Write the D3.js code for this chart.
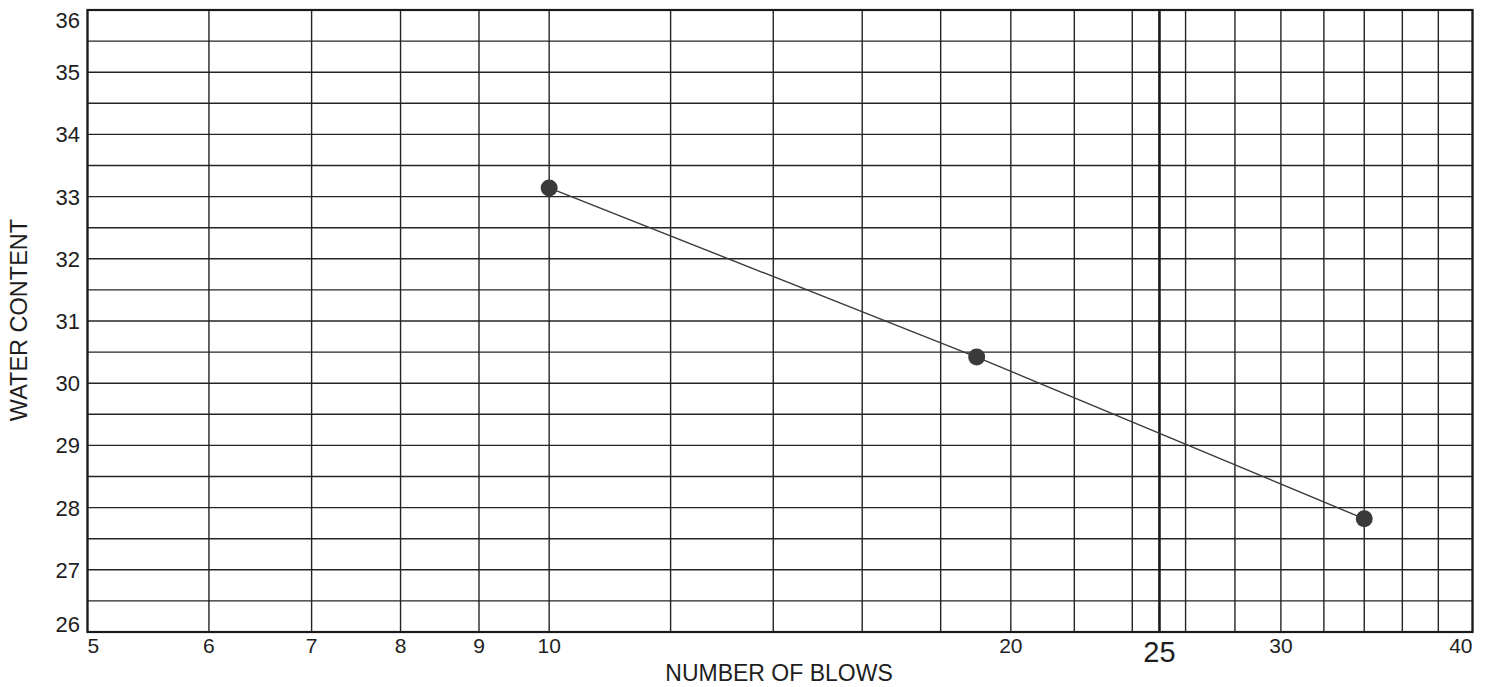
<!DOCTYPE html>
<html>
<head>
<meta charset="utf-8">
<script src="https://cdn.jsdelivr.net/npm/d3@7"></script>
<style>
  html, body { margin: 0; padding: 0; background: #fff; }
  svg { display: block; font-family: "Liberation Sans", Arial, sans-serif; }
</style>
</head>
<body>
<svg id="chart" width="1493" height="687"></svg>
<script>
// Liquid limit flow curve: water content vs. number of blows (log scale)
const blows = [10, 19, 34];
const waterContent = [33.14, 30.42, 27.82];

const xTickLabels = [5, 6, 7, 8, 9, 10, 20, 30, 40];
const xGridValues = [5, 6, 7, 8, 9, 10, 12, 14, 16, 18, 20, 22, 24, 26, 28, 30, 32, 34, 36, 38, 40];
const refBlows = 25;
const yTickLabels = [26, 27, 28, 29, 30, 31, 32, 33, 34, 35, 36];
const yGridValues = d3.range(26, 36.01, 0.5);

const svg = d3.select("#chart");
const plotLeft = 87.5, plotRight = 1472.5, plotTop = 10, plotBottom = 632;

const x = d3.scaleLog().domain([5, 40]).range([plotLeft, plotRight]);
const y = d3.scaleLinear().domain([26, 36]).range([plotBottom, plotTop]);

const ink = "#242424";

// horizontal grid
svg.append("g").selectAll("line").data(yGridValues).join("line")
  .attr("x1", plotLeft).attr("x2", plotRight)
  .attr("y1", d => y(d)).attr("y2", d => y(d))
  .attr("stroke", ink).attr("stroke-width", 1.4);

// vertical grid
svg.append("g").selectAll("line").data(xGridValues).join("line")
  .attr("x1", d => x(d)).attr("x2", d => x(d))
  .attr("y1", plotTop).attr("y2", plotBottom)
  .attr("stroke", ink).attr("stroke-width", 1.4);

// reference line at 25 blows
svg.append("line")
  .attr("x1", x(refBlows)).attr("x2", x(refBlows))
  .attr("y1", plotTop).attr("y2", plotBottom)
  .attr("stroke", "#1a1a1a").attr("stroke-width", 2.6);

// frame
svg.append("rect")
  .attr("x", plotLeft).attr("y", plotTop)
  .attr("width", plotRight - plotLeft).attr("height", plotBottom - plotTop)
  .attr("fill", "none").attr("stroke", "#1a1a1a").attr("stroke-width", 2.2);

// y tick labels (end labels nudged inward to clear the frame corners)
svg.append("g").selectAll("text").data(yTickLabels).join("text")
  .attr("x", 80).attr("y", d => d === 36 ? y(d) + 10 : d === 26 ? y(d) - 8 : y(d))
  .attr("dy", "0.36em")
  .attr("text-anchor", "end")
  .attr("font-size", 22).attr("fill", "#1e1e1e")
  .text(d => d);

// x tick labels (end labels kept inside the frame)
svg.append("g").selectAll("text").data(xTickLabels).join("text")
  .attr("x", d => x(d))
  .attr("y", 653)
  .attr("text-anchor", d => d === 5 ? "start" : d === 40 ? "end" : "middle")
  .attr("font-size", 21).attr("fill", "#1e1e1e")
  .text(d => d);

svg.append("text")
  .attr("x", x(refBlows)).attr("y", 662)
  .attr("text-anchor", "middle")
  .attr("font-size", 29).attr("fill", "#1e1e1e")
  .text(refBlows);

// axis titles
svg.append("text")
  .attr("x", 779).attr("y", 681)
  .attr("text-anchor", "middle")
  .attr("font-size", 23).attr("fill", "#1e1e1e")
  .text("NUMBER OF BLOWS");

svg.append("text")
  .attr("transform", "translate(27,320) rotate(-90)")
  .attr("text-anchor", "middle")
  .attr("font-size", 23.5).attr("fill", "#1e1e1e")
  .text("WATER CONTENT");

// flow curve
const pts = blows.map((b, i) => [b, waterContent[i]]);
svg.append("path")
  .datum(pts)
  .attr("fill", "none").attr("stroke", "#3a3a3a").attr("stroke-width", 1.4)
  .attr("d", d3.line().x(d => x(d[0])).y(d => y(d[1])));

svg.append("g").selectAll("circle").data(pts).join("circle")
  .attr("cx", d => x(d[0])).attr("cy", d => y(d[1]))
  .attr("r", 8.5)
  .attr("fill", "#3a3a3a");
</script>
</body>
</html>
